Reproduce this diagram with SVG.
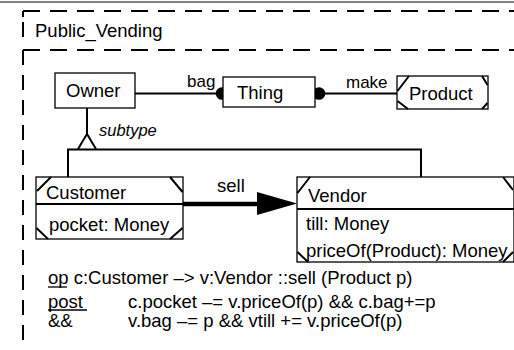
<svg xmlns="http://www.w3.org/2000/svg" width="514" height="350" viewBox="0 0 514 350">
<style>
text{font-family:"Liberation Sans",Arial,sans-serif;fill:#000}
.t{font-size:18.5px}
.lbl{font-size:17px}
.it{font-size:16.5px;font-style:italic}
.box{fill:#fff;stroke:#000;stroke-width:1.3}
.crn{stroke:#000;stroke-width:2;fill:none}
.ln{stroke:#000;stroke-width:2;fill:none}
.frame{stroke:#000;stroke-width:2;fill:none;stroke-dasharray:17 10}
</style>
<rect x="0" y="0" width="514" height="350" fill="#fff"/>
<line x1="0" y1="2" x2="514" y2="2" stroke="#808080" stroke-width="2"/>
<g id="frame">
<path class="frame" d="M23,11 H514"/>
<path class="frame" d="M23,50 H514"/>
<path class="frame" d="M23,11 V50" style="stroke-dasharray:6 5 15 20"/>
<path class="frame" d="M23,50 V350" style="stroke-dasharray:15 10"/>
<text class="t" x="35" y="37">Public_Vending</text>
</g>
<g id="connectors">
<line class="ln" x1="135" y1="93.5" x2="222" y2="93.5"/>
<circle cx="222" cy="93.5" r="6.3" fill="#000"/>
<text class="lbl" x="187" y="87">bag</text>
<line class="ln" x1="319" y1="93.5" x2="397" y2="93.5"/>
<circle cx="319" cy="93.5" r="6.3" fill="#000"/>
<text class="lbl" x="346" y="88">make</text>
<line class="ln" x1="87" y1="108" x2="87" y2="134"/>
<path class="ln" d="M78,149 L87,134 L96,149"/>
<text class="it" x="99" y="136">subtype</text>
<path class="ln" d="M68,177 V149.5 H421 V177"/>
<line x1="183" y1="204" x2="258" y2="204" stroke="#000" stroke-width="4.5"/>
<polygon points="257,192 297,203.5 257,215" fill="#000"/>
<text class="t" x="217" y="192">sell</text>
</g>
<g id="owner">
<rect class="box" x="55" y="73" width="80" height="35"/>
<text class="t" x="66" y="97">Owner</text>
</g>
<g id="thing">
<rect class="box" x="223" y="77" width="92" height="30"/>
<text class="t" x="237" y="99">Thing</text>
</g>
<g id="product">
<rect class="box" x="397" y="76" width="91" height="33"/>
<path class="crn" d="M409,76 L397.5,91 M397.5,101 L408,109 M482,76 L487.5,85 M482,109 L487.5,103"/>
<text class="t" x="409" y="100">Product</text>
</g>
<g id="customer">
<rect class="box" x="36" y="177" width="147" height="62"/>
<line x1="36" y1="204" x2="183" y2="204" stroke="#000" stroke-width="2"/>
<path class="crn" d="M51,177 L37,191 M36.5,228 L48,239 M170,177 L182.5,192 M170,239 L182.5,228"/>
<text class="t" x="46" y="199">Customer</text>
<text class="t" x="49" y="231">pocket: Money</text>
</g>
<g id="vendor">
<rect class="box" x="297" y="177" width="217" height="85"/>
<line x1="297" y1="209" x2="514" y2="209" stroke="#000" stroke-width="2"/>
<path class="crn" d="M310,177 L297.5,193 M297.5,252 L308,262 M503,177 L513,190 M503,262 L513,252"/>
<text class="t" x="308" y="201.5">Vendor</text>
<text class="t" x="306" y="230">till: Money</text>
<text class="t" x="306" y="256.5">priceOf(Product): Money</text>
</g>
<g id="spec">
<text class="t" x="48" y="284">op c:Customer –&gt; v:Vendor ::sell (Product p)</text>
<line x1="48" y1="287" x2="67" y2="287" stroke="#000" stroke-width="1.3"/>
<text class="t" x="48" y="307.5">post</text>
<line x1="48" y1="310" x2="87" y2="310" stroke="#000" stroke-width="1.3"/>
<text class="t" x="128" y="307.5">c.pocket –= v.priceOf(p) &amp;&amp; c.bag+=p</text>
<text class="t" x="48" y="327">&amp;&amp;</text>
<text class="t" x="128" y="327">v.bag –= p &amp;&amp; vtill += v.priceOf(p)</text>
</g>
</svg>
